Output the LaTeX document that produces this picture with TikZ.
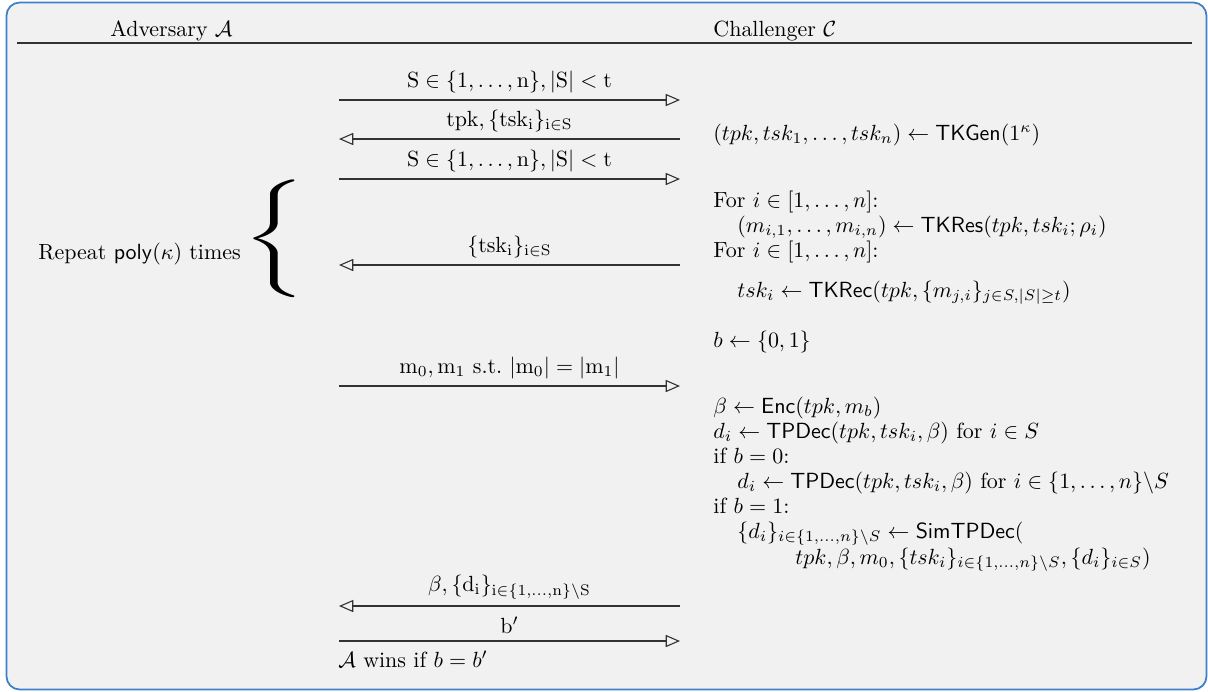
\documentclass[tikz,border=0pt]{standalone}
\usepackage{amsmath,amssymb}
\usepackage{graphicx}
\usetikzlibrary{arrows.meta}
\definecolor{bgc}{RGB}{241,241,241}
\definecolor{bdc}{RGB}{60,128,200}
\definecolor{lnc}{RGB}{50,50,50}
\begin{document}
\begin{tikzpicture}[x=0.016cm,y=-0.016cm,
  msg/.style={draw=lnc, line width=0.5pt, -{Triangle[open,length=6.5pt,width=5.5pt]}},
  lbl/.style={midway, above, inner sep=3pt, text=black},
  txt/.style={anchor=base west, inner sep=0pt}]
\useasboundingbox (0,0) rectangle (1208,691);
\draw[fill=bgc, draw=bdc, line width=0.8pt, rounded corners=6pt] (6.5,2.5) rectangle (1206.5,689.5);
% header
\node[txt] (adv) at (110,36) {Adversary $\mathcal{A}$};
\node[txt] (chal) at (713,36) {Challenger $\mathcal{C}$};
\coordinate (hl) at (17,43);
\coordinate (hr) at (1192,43);
\draw[lnc, line width=0.9pt] (hl) -- (hr);
% arrow endpoints
\foreach \n/\y in {1/100,2/139,3/179,4/265,5/386,6/606,7/641}{
  \coordinate (l\n) at (339,\y);
  \coordinate (r\n) at (680,\y);
}
\draw[msg] (l1) -- (r1) node[lbl] {$\mathrm{S\in\{1,\dots,n\}, |S| < t}$};
\draw[msg] (r2) -- (l2) node[lbl] {$\mathrm{tpk, \{tsk_i\}_{i\in S}}$};
\draw[msg] (l3) -- (r3) node[lbl] {$\mathrm{S\in\{1,\dots,n\}, |S| < t}$};
\draw[msg] (r4) -- (l4) node[lbl] {$\mathrm{\{tsk_i\}_{i\in S}}$};
\draw[msg] (l5) -- (r5) node[lbl] {$\mathrm{m_0, m_1\ \text{s.t.}\ |m_0| = |m_1|}$};
\draw[msg] (r6) -- (l6) node[lbl] {$\mathrm{\beta, \{d_i\}_{i\in\{1,\dots,n\}\backslash S}}$};
\draw[msg] (l7) -- (r7) node[lbl] {$\mathrm{b'}$};
\node[txt] (win) at (338,667) {$\mathcal{A}$ wins if $b = b'$};
% repeat brace
\node[txt] (rep) at (38,259) {Repeat $\mathsf{poly}(\kappa)$ times};
\node[inner sep=0pt] (brace) at (274,239) {\resizebox*{29pt}{53.6pt}{$\Bigg\{$}};
% challenger column
\node[txt] (c1) at (713,140) {$(tpk, tsk_1, \dots, tsk_n) \leftarrow \mathsf{TKGen}(1^\kappa)$};
\node[txt] (c2) at (713,207) {For $i \in [1,\dots,n]$:};
\node[txt] (c3) at (737,232) {$(m_{i,1},\dots,m_{i,n}) \leftarrow \mathsf{TKRes}(tpk, tsk_i; \rho_i)$};
\node[txt] (c4) at (713,257) {For $i \in [1,\dots,n]$:};
\node[txt] (c5) at (737,297) {$tsk_i \leftarrow \mathsf{TKRec}(tpk, \{m_{j,i}\}_{j\in S, |S|\geq t})$};
\node[txt] (c6) at (713,347) {$b \leftarrow \{0,1\}$};
\node[txt] (c7) at (713,413) {$\beta \leftarrow \mathsf{Enc}(tpk, m_b)$};
\node[txt] (c8) at (713,438) {$d_i \leftarrow \mathsf{TPDec}(tpk, tsk_i, \beta)$ for $i \in S$};
\node[txt] (c9) at (713,463) {if $b = 0$:};
\node[txt] (c10) at (737,488) {$d_i \leftarrow \mathsf{TPDec}(tpk, tsk_i, \beta)$ for $i \in \{1,\dots,n\}\backslash S$};
\node[txt] (c11) at (713,513) {if $b = 1$:};
\node[txt] (c12) at (737,538) {$\{d_i\}_{i\in\{1,\dots,n\}\backslash S} \leftarrow \mathsf{SimTPDec}($};
\node[txt] (c13) at (795,564) {$tpk, \beta, m_0, \{tsk_i\}_{i\in\{1,\dots,n\}\backslash S}, \{d_i\}_{i\in S})$};
\end{tikzpicture}
\end{document}
